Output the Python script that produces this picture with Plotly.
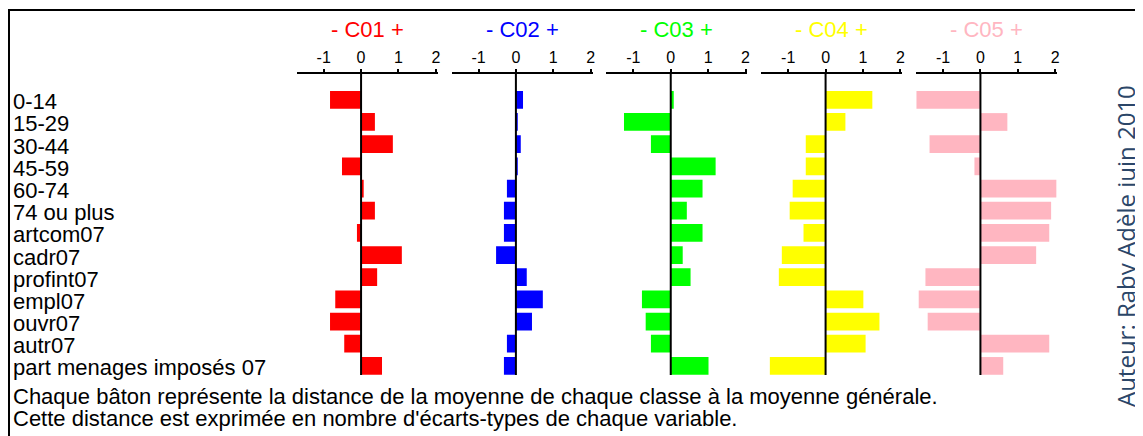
import plotly.graph_objects as go

# rows, top to bottom
categories = ["0-14", "15-29", "30-44", "45-59", "60-74", "74 ou plus", "artcom07",
              "cadr07", "profint07", "empl07", "ouvr07", "autr07", "part menages imposés 07"]

classes = ["C01", "C02", "C03", "C04", "C05"]
c01 = [-0.83, 0.37, 0.85, -0.51, 0.07, 0.37, -0.11, 1.09, 0.43, -0.69, -0.83, -0.45, 0.56]
c02 = [0.19, 0.05, 0.13, 0.05, -0.24, -0.32, -0.32, -0.53, 0.29, 0.72, 0.43, -0.24, -0.32]
c03 = [0.08, -1.25, -0.53, 1.20, 0.85, 0.43, 0.85, 0.32, 0.53, -0.77, -0.67, -0.53, 1.01]
c04 = [1.25, 0.53, -0.53, -0.53, -0.88, -0.96, -0.59, -1.17, -1.25, 1.01, 1.44, 1.07, -1.49]
c05 = [-1.71, 0.72, -1.36, -0.16, 2.03, 1.89, 1.84, 1.49, -1.47, -1.65, -1.41, 1.84, 0.61]
class_values = [c01, c02, c03, c04, c05]
class_colors = ["#ff0000", "#0000ff", "#00ff00", "#ffff00", "#ffb6c1"]

tick_vals = [-1, 0, 1, 2]
tick_text = ["-1", "0", "1", "2"]
notes = [
    "Chaque bâton représente la distance de la moyenne de chaque classe à la moyenne générale.",
    "Cette distance est exprimée en nombre d'écarts-types de chaque variable.",
]
author = "Auteur: Raby Adèle juin 2010"

# the page body has an 8px margin, so the figure is a bit smaller and shifted
OFF = 8
W, H = 1143 - OFF, 436 - OFF
FONT = "Liberation Sans, Arial, sans-serif"


def px(x):
    return (x - OFF) / W


def py(y):
    return 1 - (y - OFF) / H


x_range = [-1.72, 2.05]
px_per_unit = 37.5
zero_px = [362 + 155.25 * i for i in range(5)]

fig = go.Figure()
layout = dict(
    width=W, height=H,
    margin=dict(l=0, r=0, t=0, b=0),
    paper_bgcolor="white", plot_bgcolor="white",
    showlegend=False, bargap=0.2,
    font=dict(family=FONT, color="black"),
    yaxis=dict(type="category", categoryarray=categories, range=[12.41, -1.164],
               domain=[py(375), py(74)], visible=False, fixedrange=True),
)

tick_common = dict(range=x_range, side="top", anchor="y", tickvals=tick_vals,
                   tickwidth=2, tickcolor="black", showgrid=False, zeroline=False,
                   fixedrange=True)

shapes = []
annotations = []
n = len(classes)
for i, (name, vals, col) in enumerate(zip(classes, class_values, class_colors)):
    xa = "x" if i == 0 else f"x{i + 1}"
    key = "xaxis" if i == 0 else f"xaxis{i + 1}"
    d0 = px(zero_px[i] + x_range[0] * px_per_unit)
    d1 = px(zero_px[i] + x_range[1] * px_per_unit)
    fig.add_trace(go.Bar(x=vals, y=categories, orientation="h",
                         marker=dict(color=col, line=dict(width=0)),
                         xaxis=xa, yaxis="y", name=name))
    # main axis: line + labels
    layout[key] = dict(domain=[d0, d1], ticks="outside", ticklen=3, ticktext=tick_text,
                       showline=True, linewidth=2, linecolor="black",
                       tickfont=dict(size=16, family=FONT), **tick_common)
    # upward part of the major ticks
    layout[f"xaxis{i + 1 + n}"] = dict(overlaying=xa, ticks="outside", ticklen=7,
                                       showticklabels=False, showline=False, **tick_common)
    # downward part of the major ticks + minor ticks
    layout[f"xaxis{i + 1 + 2 * n}"] = dict(overlaying=xa, ticks="inside", ticklen=9,
                                           showticklabels=False, showline=False,
                                           minor=dict(ticks="inside", ticklen=3, tickwidth=2,
                                                      tickcolor="black", dtick=0.5, tick0=0.5,
                                                      showgrid=False),
                                           **tick_common)
    shapes.append(dict(type="line", xref=xa, yref="y domain", x0=0, x1=0, y0=0, y1=1,
                       line=dict(color="black", width=2), layer="above"))
    annotations.append(dict(text=f"- {name} +", x=(d0 + d1) / 2, y=py(30), xref="paper",
                            yref="paper", showarrow=False, xanchor="center", yanchor="middle",
                            font=dict(size=22, color=col, family=FONT)))

for cat in categories:
    annotations.append(dict(text=cat, x=px(11), xref="paper", y=cat, yref="y", showarrow=False,
                            xanchor="left", yanchor="middle", yshift=-2,
                            font=dict(size=22, color="black", family=FONT)))

for k, line in enumerate(notes):
    annotations.append(dict(text=line, x=px(11), xref="paper", y=py(396 + 22 * k),
                            yref="paper", showarrow=False, xanchor="left", yanchor="middle",
                            font=dict(size=22, color="black", family=FONT)))

annotations.append(dict(text=author, x=px(1128), y=py(246), xref="paper", yref="paper",
                        showarrow=False, textangle=-90, xanchor="center", yanchor="middle",
                        font=dict(size=24, color="#2b4668", family="Open Sans, sans-serif")))

# frame (top and left edges visible)
shapes.append(dict(type="line", xref="paper", yref="paper", x0=px(8), x1=1, y0=py(10),
                   y1=py(10), line=dict(color="black", width=2)))
shapes.append(dict(type="line", xref="paper", yref="paper", x0=px(9), x1=px(9), y0=0,
                   y1=py(10), line=dict(color="black", width=2)))

layout["shapes"] = shapes
layout["annotations"] = annotations
fig.update_layout(**layout)

fig.write_html("out.html")
